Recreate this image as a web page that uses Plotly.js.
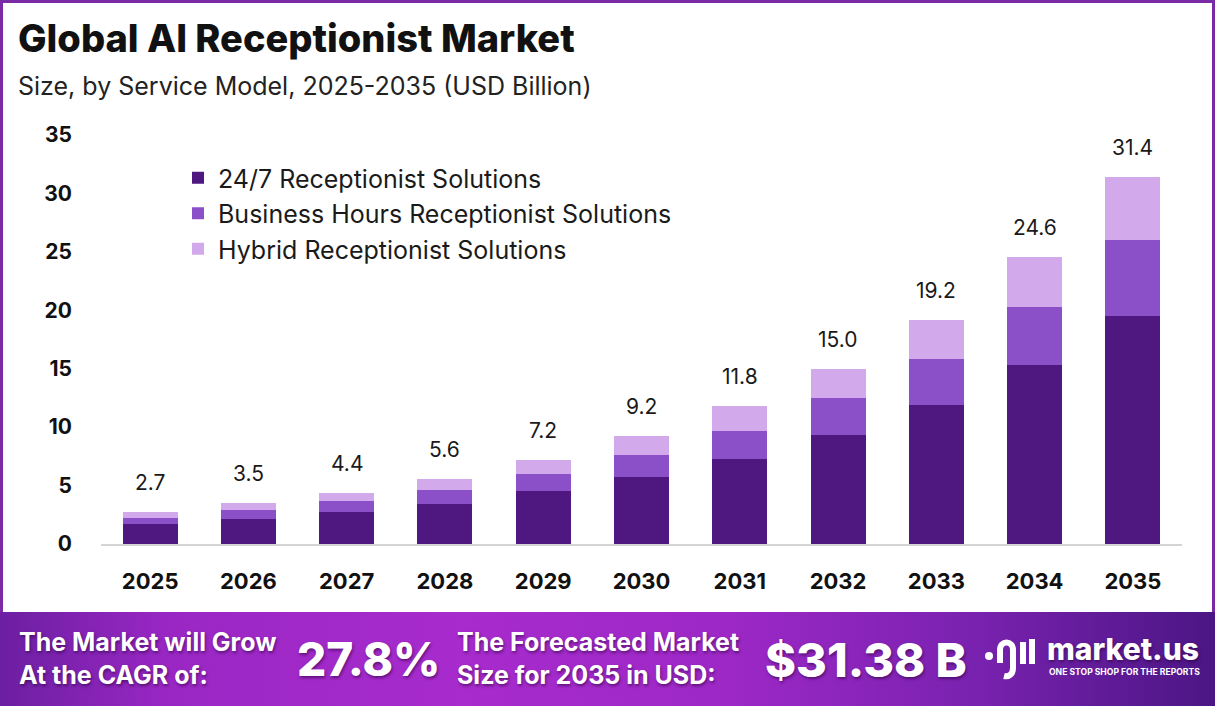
<!DOCTYPE html>
<html>
<head>
<meta charset="utf-8">
<script src="https://cdn.plot.ly/plotly-3.0.1.min.js"></script>
<style>
  html, body { margin:0; padding:0; background:#fff; }
  #wrap { position:relative; width:1215px; height:706px; overflow:hidden; background:#fff; }
  #frame { position:absolute; left:0; top:0; width:1215px; height:706px; box-sizing:border-box;
           border-top:3px solid #7b2aa6; border-left:3px solid #7b2aa6; border-right:3px solid #7b2aa6; }
  #footer { position:absolute; left:0; top:612px; width:1215px; height:94px;
            background:linear-gradient(90deg, #6c1fa2 0%, #9a27c4 14%, #a82bcd 38%, #9d28c6 60%, #7a22b0 80%, #4b1684 100%); }
  #chart { position:absolute; left:0; top:0; width:1215px; height:706px; }
</style>
</head>
<body>
<div id="wrap">
  <div id="frame"></div>
  <div id="footer"></div>
  <div id="chart"></div>
</div>
<script>
// ---- data ----
const years = ['2025','2026','2027','2028','2029','2030','2031','2032','2033','2034','2035'];
const solutions247 = [1.7, 2.1, 2.7, 3.4, 4.5, 5.7, 7.3, 9.3, 11.9, 15.3, 19.5];
const businessHours = [0.5, 0.8, 0.95, 1.2, 1.45, 1.9, 2.4, 3.2, 3.95, 5.0, 6.5];
const hybrid = [0.5, 0.6, 0.75, 1.0, 1.25, 1.6, 2.1, 2.5, 3.35, 4.3, 5.4];
const totals = [2.7, 3.5, 4.4, 5.6, 7.2, 9.2, 11.8, 15.0, 19.2, 24.6, 31.4];
const seriesNames = ['24/7 Receptionist Solutions', 'Business Hours Receptionist Solutions', 'Hybrid Receptionist Solutions'];
const seriesColors = ['#4f1881', '#8b4fc8', '#d2a9eb'];
const yTicks = [0, 5, 10, 15, 20, 25, 30, 35];

// ---- helpers for decoration placement (pixel -> paper) ----
const W = 1215, H = 706;
const mL = 101, mR = 33, mT = 135, mB = 162;
const pw = W - mL - mR, ph = H - mT - mB;
const X = px => (px - mL) / pw;
const Y = py => (H - mB - py) / ph;

const FONT = 'Inter, "Open Sans", "DejaVu Sans", sans-serif';

const traces = [solutions247, businessHours, hybrid].map((vals, i) => ({
  type: 'bar',
  x: years,
  y: vals,
  name: seriesNames[i],
  marker: { color: seriesColors[i], line: { width: 0 } },
  width: 0.56,
  hoverinfo: 'x+y+name'
}));

const annotations = [];
years.forEach((yr, i) => {
  annotations.push({
    x: i, y: totals[i], xref: 'x', yref: 'y',
    text: totals[i].toFixed(1), showarrow: false,
    xanchor: 'center', yanchor: 'bottom', yshift: 15,
    font: { family: FONT, size: 21, color: '#1a1a1a' }
  });
});

// title & subtitle
annotations.push({
  xref: 'paper', yref: 'paper', x: X(16), y: Y(38), xanchor: 'left', yanchor: 'middle',
  text: 'Global AI Receptionist Market', showarrow: false,
  font: { family: FONT, size: 38, color: '#111', weight: 800 }
});
annotations.push({
  xref: 'paper', yref: 'paper', x: X(16), y: Y(86), xanchor: 'left', yanchor: 'middle',
  text: 'Size, by Service Model, 2025-2035 (USD Billion)', showarrow: false,
  font: { family: FONT, size: 25, color: '#222' }
});

// footer texts
const fShadow = '1px 2px 3px rgba(40,0,60,0.55)';
annotations.push({
  xref: 'paper', yref: 'paper', x: X(17), y: Y(658), xanchor: 'left', yanchor: 'middle', align: 'left',
  text: 'The Market will Grow<br>At the CAGR of:', showarrow: false,
  font: { family: FONT, size: 25, color: '#fff', weight: 700, shadow: fShadow }
});
annotations.push({
  xref: 'paper', yref: 'paper', x: X(295), y: Y(659), xanchor: 'left', yanchor: 'middle',
  text: '27.8%', showarrow: false,
  font: { family: FONT, size: 46, color: '#fff', weight: 800, shadow: fShadow }
});
annotations.push({
  xref: 'paper', yref: 'paper', x: X(455), y: Y(658), xanchor: 'left', yanchor: 'middle', align: 'left',
  text: 'The Forecasted Market<br>Size for 2035 in USD:', showarrow: false,
  font: { family: FONT, size: 25, color: '#fff', weight: 700, shadow: fShadow }
});
annotations.push({
  xref: 'paper', yref: 'paper', x: X(763), y: Y(659), xanchor: 'left', yanchor: 'middle',
  text: '$31.38 B', showarrow: false,
  font: { family: FONT, size: 47, color: '#fff', weight: 800, shadow: fShadow }
});
annotations.push({
  xref: 'paper', yref: 'paper', x: X(1045), y: Y(649), xanchor: 'left', yanchor: 'middle',
  text: 'market.us', showarrow: false,
  font: { family: FONT, size: 30, color: '#fff', weight: 800, shadow: fShadow }
});
annotations.push({
  xref: 'paper', yref: 'paper', x: X(1047), y: Y(672), xanchor: 'left', yanchor: 'middle',
  text: 'ONE STOP SHOP FOR THE REPORTS', showarrow: false,
  font: { family: FONT, size: 8.6, color: '#fff', weight: 700 }
});

// logo icon shapes
const shapes = [
  { type: 'circle', xref: 'paper', yref: 'paper', x0: X(985), x1: X(993), y0: Y(652), y1: Y(660),
    fillcolor: '#fff', line: { width: 0 } },
  { type: 'path', xref: 'paper', yref: 'paper',
    path: `M ${X(1000)},${Y(663)} L ${X(1000)},${Y(650)} C ${X(1000)},${Y(640)} ${X(1013)},${Y(640)} ${X(1013)},${Y(650)} L ${X(1013)},${Y(668)} C ${X(1013)},${Y(675)} ${X(1008)},${Y(677)} ${X(1004)},${Y(676)}`,
    line: { color: '#fff', width: 6 } },
  { type: 'path', xref: 'paper', yref: 'paper',
    path: `M ${X(1023)},${Y(642)} L ${X(1023)},${Y(664)}`, line: { color: '#fff', width: 6 } },
  { type: 'path', xref: 'paper', yref: 'paper',
    path: `M ${X(1032)},${Y(639)} L ${X(1032)},${Y(664)}`, line: { color: '#fff', width: 6 } }
];

const layout = {
  width: W, height: H,
  margin: { l: mL, r: mR, t: mT, b: mB, pad: 0 },
  paper_bgcolor: 'rgba(0,0,0,0)',
  plot_bgcolor: 'rgba(0,0,0,0)',
  barmode: 'stack',
  bargap: 0.44,
  showlegend: true,
  legend: {
    x: X(178), y: Y(155), xanchor: 'left', yanchor: 'top',
    bgcolor: 'rgba(0,0,0,0)', traceorder: 'normal',
    font: { family: FONT, size: 25, color: '#1a1a1a' },
    tracegroupgap: 0, itemsizing: 'constant'
  },
  xaxis: {
    type: 'category', range: [-0.5, 10.5], fixedrange: true,
    showgrid: false, zeroline: false,
    showline: true, linecolor: '#d4d4d4', linewidth: 2,
    ticks: '', ticklabelstandoff: 17,
    tickfont: { family: FONT, size: 22, color: '#111', weight: 700 }
  },
  yaxis: {
    range: [0, 35], fixedrange: true,
    tickmode: 'array', tickvals: yTicks, ticktext: yTicks.map(String),
    showgrid: false, zeroline: false, showline: false,
    ticks: '', ticklabelstandoff: 28,
    tickfont: { family: FONT, size: 21, color: '#111', weight: 700 }
  },
  annotations: annotations,
  shapes: shapes,
  hovermode: 'closest'
};

Plotly.newPlot('chart', traces, layout, { displayModeBar: false, responsive: false });
</script>
</body>
</html>
